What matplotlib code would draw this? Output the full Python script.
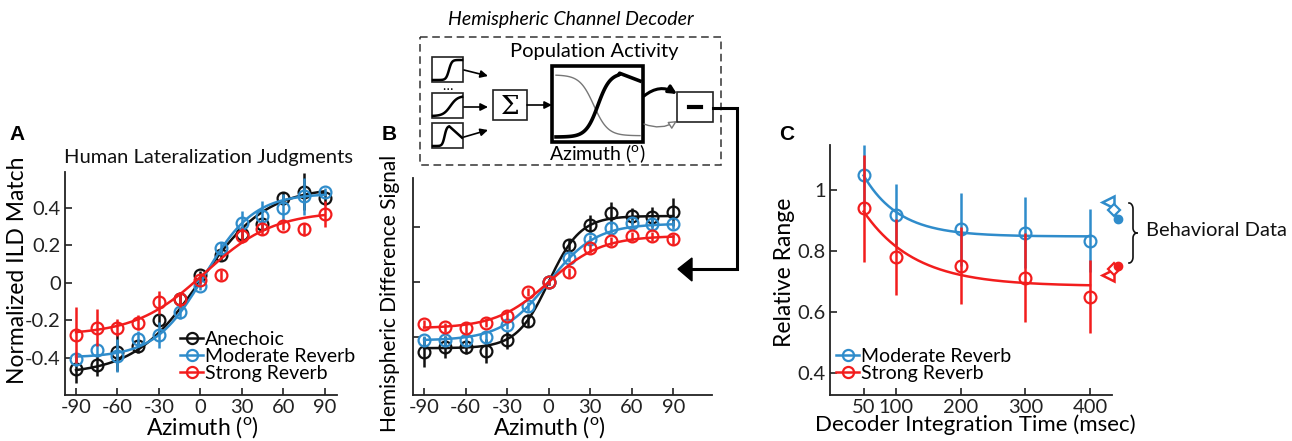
import numpy as np
import matplotlib
matplotlib.use("Agg")
import matplotlib.pyplot as plt
from matplotlib.patches import Rectangle, FancyArrowPatch, Polygon
from matplotlib.lines import Line2D

plt.rcParams['font.family'] = ['Lato', 'DejaVu Sans']
plt.rcParams['mathtext.fontset'] = 'custom'
plt.rcParams['mathtext.rm'] = 'Lato'

# ---------------- data ----------------
azimuth = [-90, -75, -60, -45, -30, -15, 0, 15, 30, 45, 60, 75, 90]

# Panel A: human lateralization judgments
a_anechoic = [-0.463, -0.44, -0.37, -0.34, -0.20, -0.09, 0.04, 0.145, 0.26, 0.31, 0.45, 0.485, 0.45]
a_anechoic_err = [0.075, 0.057, 0.10, 0.035, 0.027, 0.03, 0.02, 0.027, 0.03, 0.03, 0.035, 0.10, 0.035]
a_moderate = [-0.41, -0.36, -0.39, -0.30, -0.28, -0.155, -0.018, 0.185, 0.32, 0.355, 0.40, 0.46, 0.485]
a_moderate_err = [0.035, 0.03, 0.088, 0.044, 0.07, 0.04, 0.022, 0.03, 0.062, 0.08, 0.075, 0.10, 0.022]
a_strong = [-0.28, -0.24, -0.24, -0.215, -0.105, -0.09, 0.012, 0.04, 0.25, 0.285, 0.30, 0.285, 0.365]
a_strong_err = [0.15, 0.097, 0.044, 0.04, 0.062, 0.04, 0.02, 0.026, 0.04, 0.03, 0.022, 0.035, 0.07]
# logistic fit parameters (lo, hi, x0, slope)
a_fit_anechoic = (-0.49, 0.51, 0, 24)
a_fit_moderate = (-0.40, 0.475, 3, 18)
a_fit_strong = (-0.28, 0.38, 3, 25)

# Panel B: hemispheric difference signal (arbitrary units)
b_anechoic = [-1.27, -1.18, -1.18, -1.25, -1.05, -0.70, 0.0, 0.68, 1.04, 1.25, 1.20, 1.18, 1.27]
b_anechoic_err = [0.27, 0.20, 0.12, 0.21, 0.17, 0.12, 0.05, 0.10, 0.17, 0.20, 0.15, 0.18, 0.26]
b_moderate = [-1.06, -1.06, -1.06, -1.0, -0.78, -0.44, 0.0, 0.44, 0.78, 0.99, 1.07, 1.06, 1.05]
b_moderate_err = [0.08, 0.08, 0.10, 0.08, 0.08, 0.08, 0.05, 0.08, 0.08, 0.10, 0.08, 0.10, 0.08]
b_strong = [-0.76, -0.82, -0.83, -0.74, -0.61, -0.18, 0.0, 0.18, 0.61, 0.74, 0.83, 0.83, 0.78]
b_strong_err = [0.08, 0.08, 0.10, 0.08, 0.08, 0.08, 0.05, 0.08, 0.08, 0.08, 0.08, 0.08, 0.10]
b_fit_anechoic = (-1.2, 1.2, 0, 11.5)
b_fit_moderate = (-1.06, 1.06, 0, 17)
b_fit_strong = (-0.84, 0.84, 0, 19)

# Panel C: relative range vs decoder integration time
int_time = [50, 100, 200, 300, 400]
c_moderate = [1.049, 0.92, 0.871, 0.861, 0.834]
c_moderate_err = [0.10, 0.10, 0.12, 0.115, 0.104]
c_strong = [0.94, 0.781, 0.752, 0.713, 0.65]
c_strong_err = [0.175, 0.125, 0.126, 0.145, 0.12]
# exponential fit parameters (asymptote, amplitude, tau)
c_fit_moderate = (0.848, 0.2, 55)
c_fit_strong = (0.685, 0.245, 79)
# behavioral data: (x position, value) for triangle, diamond, filled circle
behav_x = [428, 437, 443]
behav_moderate = [0.962, 0.934, 0.904]
behav_strong = [0.721, 0.740, 0.751]

BLACK = '#111111'
BLUE = '#2f8ccb'
RED = '#f21d1d'

W, H = 1292, 441
fig = plt.figure(figsize=(W / 100, H / 100), dpi=100)


def rect(x0, y0, x1, y1):
    return [x0 / W, 1 - y1 / H, (x1 - x0) / W, (y1 - y0) / H]


def logistic(x, p):
    lo, hi, x0, s = p
    return lo + (hi - lo) / (1 + np.exp(-(x - x0) / s))


def style_axes(ax):
    for s in ['top', 'right']:
        ax.spines[s].set_visible(False)
    for s in ['left', 'bottom']:
        ax.spines[s].set_linewidth(1.3)
        ax.spines[s].set_color('#222222')
    ax.tick_params(direction='in', length=5, width=1.2, labelsize=14.5, colors='#222222', pad=3)


def series(ax, x, y, e, col, fitp, fitfun, xs, z):
    ax.errorbar(x, y, yerr=e, fmt='o', mfc='none', mec=col, ecolor=col, ms=8.5,
                mew=1.6, elinewidth=1.8, capsize=0, zorder=z)
    ax.plot(xs, fitfun(xs, fitp), color=col, lw=1.8, zorder=z)


XL = 16.5

xs = np.linspace(-90, 90, 300)

# ---------------- Panel A ----------------
axA = fig.add_axes(rect(65, 172, 337, 395))
style_axes(axA)
series(axA, azimuth, a_anechoic, a_anechoic_err, BLACK, a_fit_anechoic, logistic, xs, 3)
series(axA, azimuth, a_moderate, a_moderate_err, BLUE, a_fit_moderate, logistic, xs, 4)
series(axA, azimuth, a_strong, a_strong_err, RED, a_fit_strong, logistic, xs, 5)
axA.set_xlim(-98, 99)
axA.set_ylim(-0.6, 0.59)
axA.set_xticks([-90, -60, -30, 0, 30, 60, 90])
axA.set_xticklabels(['-90', '-60', '-30', '0', '30', '60', '90'])
axA.set_yticks([-0.4, -0.2, 0, 0.2, 0.4])
axA.set_yticklabels(['-0.4', '-0.2', '0', '0.2', '0.4'])
axA.set_xlabel(r'Azimuth ($^{\mathrm{o}}$)', fontsize=XL)
axA.xaxis.set_label_coords(0.504, -0.085)
axA.set_ylabel('Normalized ILD Match', fontsize=XL)
axA.yaxis.set_label_coords(-0.135, 0.56)
fig.text(209 / W, 1 - 158 / H, 'Human Lateralization Judgments', fontsize=14.5,
         ha='center', va='center', color='#111111')
handles = [Line2D([], [], color=c, marker='o', mfc='none', ms=8, mew=1.6, lw=1.8)
           for c in (BLACK, BLUE, RED)]
legA = axA.legend(handles, ['Anechoic', 'Moderate Reverb', 'Strong Reverb'],
                  loc='upper left', bbox_to_anchor=(180 / W, 1 - 331 / H),
                  bbox_transform=fig.transFigure, frameon=False, fontsize=14,
                  handlelength=1.2, handletextpad=0.1, labelspacing=0.0,
                  borderpad=0, borderaxespad=0)
legA.set_zorder(10)

# ---------------- Panel B ----------------
axB = fig.add_axes(rect(413, 178, 712, 395))
style_axes(axB)
series(axB, azimuth, b_anechoic, b_anechoic_err, BLACK, b_fit_anechoic, logistic, xs, 3)
series(axB, azimuth, b_moderate, b_moderate_err, BLUE, b_fit_moderate, logistic, xs, 4)
series(axB, azimuth, b_strong, b_strong_err, RED, b_fit_strong, logistic, xs, 5)
axB.set_xlim(-98, 118)
axB.set_ylim(-2.05, 1.89)
axB.set_xticks([-90, -60, -30, 0, 30, 60, 90])
axB.set_xticklabels(['-90', '-60', '-30', '0', '30', '60', '90'])
axB.set_yticks([-1, 0, 1])
axB.set_yticklabels([])
axB.set_xlabel(r'Azimuth ($^{\mathrm{o}}$)', fontsize=XL)
axB.xaxis.set_label_coords((549 - 413) / (712 - 413), -0.087)
axB.set_ylabel('Hemispheric Difference Signal', fontsize=15)
axB.yaxis.set_label_coords(-0.043, 0.47)

# ---------------- Panel C ----------------
def expfit(t, p):
    a, b, tau = p
    return a + b * np.exp(-(t - 50) / tau)


ts = np.linspace(50, 400, 300)
axC = fig.add_axes(rect(830, 145, 1112, 395))
style_axes(axC)
series(axC, int_time, c_moderate, c_moderate_err, BLUE, c_fit_moderate, expfit, ts, 3)
series(axC, int_time, c_strong, c_strong_err, RED, c_fit_strong, expfit, ts, 4)
axC.set_xlim(-2, 434)
axC.set_ylim(0.328, 1.148)
axC.set_xticks(int_time)
axC.set_xticklabels(['50', '100', '200', '300', '400'])
axC.set_yticks([0.4, 0.6, 0.8, 1.0])
axC.set_yticklabels(['0.4', '0.6', '0.8', '1'])
axC.set_xlabel('Decoder Integration Time (msec)', fontsize=16)
axC.xaxis.set_label_coords((975 - 830) / (1112 - 830), -0.076)
axC.set_ylabel('Relative Range', fontsize=XL)
axC.yaxis.set_label_coords(-0.124, 0.49)
for vals, col in ((behav_moderate, BLUE), (behav_strong, RED)):
    axC.plot(behav_x, vals, color=col, lw=2, clip_on=False, zorder=5)
    axC.plot(behav_x[0], vals[0], marker='<', ms=9, mfc='white', mec=col, mew=1.8, clip_on=False, zorder=6)
    axC.plot(behav_x[1], vals[1], marker='D', ms=6, mfc='white', mec=col, mew=1.6, clip_on=False, zorder=6)
    axC.plot(behav_x[2], vals[2], marker='o', ms=6, mfc=col, mec=col, clip_on=False, zorder=6)
handlesC = [Line2D([], [], color=c, marker='o', mfc='none', ms=8, mew=1.6, lw=1.8)
            for c in (BLUE, RED)]
legC = axC.legend(handlesC, ['Moderate Reverb', 'Strong Reverb'],
                  loc='upper left', bbox_to_anchor=(836 / W, 1 - 348 / H),
                  bbox_transform=fig.transFigure, frameon=False, fontsize=14,
                  handlelength=1.2, handletextpad=0.1, labelspacing=0.0,
                  borderpad=0, borderaxespad=0)

# ---------------- overlay: labels, schematic, arrows ----------------
ov = fig.add_axes([0, 0, 1, 1], zorder=20)
ov.set_xlim(0, W)
ov.set_ylim(H, 0)
ov.axis('off')
ov.patch.set_alpha(0)

for lbl, x, y in (('A', 17, 134), ('B', 389, 134), ('C', 787, 135)):
    ov.text(x, y, lbl, fontsize=15, fontweight='bold', ha='center', va='center',
            family=['Liberation Sans', 'DejaVu Sans'])

# brace drawn as a thin curve
bt, bb, bx, bw = 203, 263, 1129, 4
bm = (bt + bb) / 2
s = np.linspace(0, np.pi / 2, 12)
top_curl = np.column_stack([bx + bw * np.sin(s), bt + 6 - 6 * np.cos(s)])
mid_up = np.column_stack([bx + bw + bw * (1 - np.cos(s)), bm - 5 + 5 * np.sin(s)])
upper = np.vstack([top_curl, [[bx + bw, bm - 5]], mid_up])
lower = upper.copy()
lower[:, 1] = 2 * bm - lower[:, 1]
ov.plot(upper[:, 0], upper[:, 1], color='#111111', lw=1.2)
ov.plot(lower[:, 0], lower[:, 1], color='#111111', lw=1.2)
ov.text(1146, 231, 'Behavioral Data', fontsize=14.5, ha='left', va='center', color='#111111')

# schematic
ov.add_patch(Rectangle((420, 37), 301, 128, fill=False, ls=(0, (5, 3)), lw=1.1, ec='#333333'))
ov.text(571, 20, 'Hemispheric Channel Decoder', fontsize=14, style='italic', ha='center', va='center')
ov.text(594, 52, 'Population Activity', fontsize=14.5, ha='center', va='center')

u = np.linspace(0, 1, 60)
small = [(57, 1 / (1 + np.exp(-(u - 0.55) * 20))),
         (93, 1 / (1 + np.exp(-(u - 0.6) * 8))),
         (123, np.where(u < 0.55, 1 / (1 + np.exp(-(u - 0.4) * 25)), 1 - (u - 0.55) * 1.3))]
for (y0, curve) in small:
    ov.add_patch(Rectangle((432, y0), 31, 25, fill=False, lw=1.2, ec='#222222'))
    ov.plot(433 + u * 29, y0 + 23 - curve * 20, color='black', lw=1.8)
ov.text(447, 86, '\u2026', fontsize=10, ha='center', va='center')
arrow_kw = dict(arrowstyle='-|>', mutation_scale=11, lw=1.2, color='black')
for (p0, p1) in (((464, 70), (488, 76)), ((464, 107), (488, 107)), ((464, 137), (488, 130))):
    ov.add_patch(FancyArrowPatch(p0, p1, **arrow_kw, shrinkA=0, shrinkB=0))
ov.add_patch(Rectangle((493, 90), 34, 30, fill=False, lw=1.2, ec='#222222'))
ov.text(510, 106, '\u03a3', fontsize=19, ha='center', va='center', family=['DejaVu Serif'])
ov.add_patch(FancyArrowPatch((527, 105), (552, 105), **arrow_kw, shrinkA=0, shrinkB=0))
ov.add_patch(Rectangle((552, 66), 91, 76, fill=False, lw=2.6, ec='black'))
v = np.linspace(0, 1, 100)
gray_c = 1 / (1 + np.exp((v - 0.45) * 12))
ov.plot(556 + v * 84, 137 - (gray_c * 0.95 + 0.02) * 64, color='#777777', lw=1.0)
blk_c = np.where(v < 0.75, 1 / (1 + np.exp(-(v - 0.5) * 14)), 1 - (v - 0.75) * 0.5)
ov.plot(556 + v * 84, 137 - blk_c * 64, color='black', lw=2.6)
ov.text(597, 154, r'Azimuth ($^{\mathrm{o}}$)', fontsize=14, ha='center', va='center')
ov.add_patch(FancyArrowPatch((644, 96), (677, 94), arrowstyle='-|>', mutation_scale=12, lw=2.2,
                             color='black', connectionstyle='arc3,rad=-0.35', shrinkA=0, shrinkB=0))
ov.add_patch(FancyArrowPatch((644, 124), (677, 121), arrowstyle='-|>', mutation_scale=12, lw=1.0,
                             color='#777777', fc='white', connectionstyle='arc3,rad=0.25',
                             shrinkA=0, shrinkB=0))
ov.add_patch(Rectangle((677, 92), 36, 30, fill=False, lw=1.2, ec='#222222'))
ov.plot([689, 701], [107, 107], color='black', lw=3)
ov.plot([713, 737, 737, 690], [108, 108, 269, 269], color='black', lw=2.2, solid_joinstyle='miter')
ov.add_patch(Polygon([[678, 269], [692, 258], [692, 281]], closed=True, fc='black', ec='black'))

fig.savefig('out.png', dpi=100)
